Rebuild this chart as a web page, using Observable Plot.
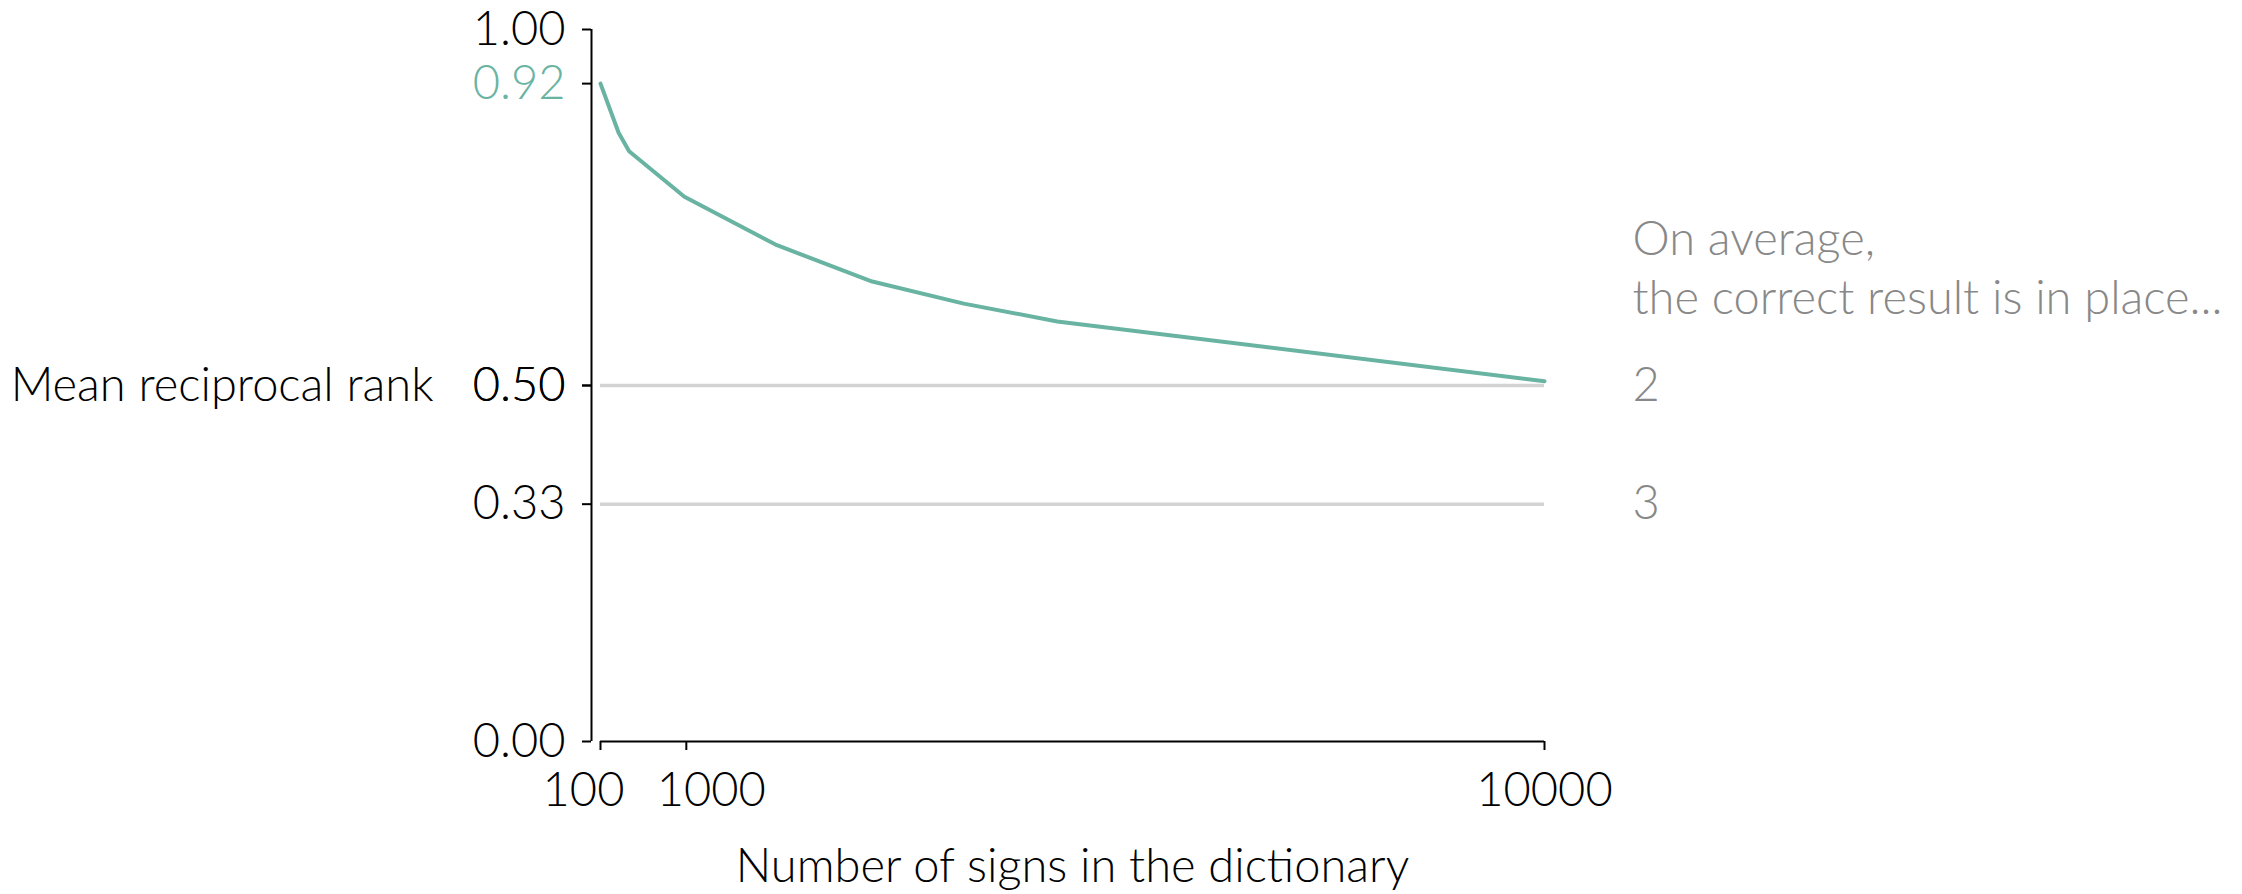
<!DOCTYPE html>
<html><head><meta charset="utf-8">
<script src="https://cdn.jsdelivr.net/npm/d3@7"></script>
<script src="https://cdn.jsdelivr.net/npm/@observablehq/plot@0.6"></script>
<style>body{margin:0;background:#fff}#chart svg{display:block}</style>
</head><body><div id="chart"></div>
<script>
const signCounts = [100, 290, 400, 980, 1950, 2950, 3910, 4890, 10000];
const meanReciprocalRank = [0.924, 0.855, 0.829, 0.765, 0.697, 0.646, 0.615, 0.590, 0.506];
const rankPlaces = [2, 3];
const yTickValues = [0, 0.5, 1];
const xTickValues = [100, 1000, 10000];
const yLabel = "Mean reciprocal rank";
const xLabel = "Number of signs in the dictionary";
const noteLines = ["On average,", "the correct result is in place..."];

const data = signCounts.map((x, i) => ({x, y: meanReciprocalRank[i]}));
const refs = rankPlaces.map(r => ({rank: r, y: 1 / r}));
const teal = "#69b3a2";
const fmt = d => d.toFixed(2);

const chart = Plot.plot({
  width: 2242, height: 894,
  marginTop: 29, marginBottom: 153, marginLeft: 600, marginRight: 698,
  x: {type: "linear", domain: [100, 10000]},
  y: {domain: [0, 1]},
  style: {fontFamily: "Lato, sans-serif", fontSize: "47px", fontWeight: 300, color: "#000", background: "#fff", overflow: "visible"},
  marks: [
    Plot.ruleY(refs, {y: "y", stroke: "#d3d3d3", strokeWidth: 3.5}),
    Plot.ruleX([xTickValues[0]], {y1: 0, y2: 1, dx: -9, stroke: "#000", strokeWidth: 2}),
    Plot.ruleY([0], {stroke: "#000", strokeWidth: 2}),
    Plot.axisY({ticks: [...yTickValues, ...refs.map(d => d.y)], tickFormat: fmt, tickSize: 9, tickPadding: 17, dx: -9, stroke: "#000", fill: "#000", strokeWidth: 2, label: null}),
    Plot.axisY({ticks: [meanReciprocalRank[0]], tickFormat: fmt, tickSize: 9, tickPadding: 17, dx: -9, stroke: "#000", fill: teal, strokeWidth: 2, label: null}),
    Plot.axisX({ticks: xTickValues, tickSize: 9, tickFormat: () => "", stroke: "#000", strokeWidth: 2, label: null}),
    Plot.text([xTickValues[0]], {x: d => d, frameAnchor: "bottom", dy: 64, dx: -17, text: d => String(d), fill: "#000"}),
    Plot.text([xTickValues[1]], {x: d => d, frameAnchor: "bottom", dy: 64, dx: 25, text: d => String(d), fill: "#000"}),
    Plot.text([xTickValues[2]], {x: d => d, frameAnchor: "bottom", dy: 64, text: d => String(d), fill: "#000"}),
    Plot.text([xLabel], {frameAnchor: "bottom", dy: 140, text: d => d, fill: "#000"}),
    Plot.text([yLabel], {x: xTickValues[0], y: refs[0].y, dx: -167, textAnchor: "end", text: d => d, fill: "#000"}),
    Plot.line(data, {x: "x", y: "y", stroke: teal, strokeWidth: 4}),
    Plot.text(refs, {x: xTickValues[2], y: "y", text: d => String(d.rank), dx: 88, textAnchor: "start", fill: "#888"}),
    Plot.text([noteLines.join("\n")], {x: xTickValues[2], y: refs[0].y, dx: 88, dy: -72, textAnchor: "start", lineAnchor: "bottom", lineHeight: 1.25, text: d => d, fill: "#888"})
  ]
});
document.getElementById("chart").append(chart);
</script>
</body></html>
